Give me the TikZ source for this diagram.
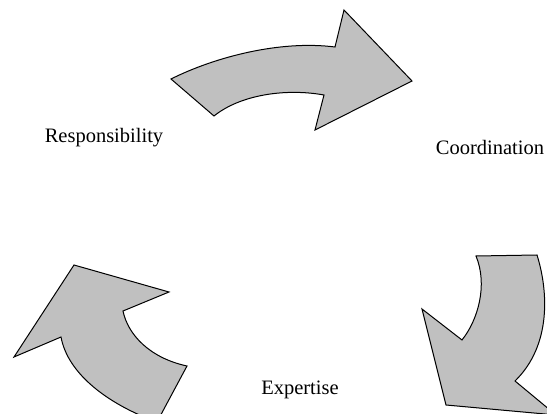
\documentclass[tikz,border=0pt]{standalone}
\usepackage{fontspec}
\setmainfont{Liberation Serif}
\definecolor{arrowgray}{HTML}{C0C0C0}
\tikzset{
  bigarrow/.style={draw=black, fill=arrowgray, line width=1pt, line join=miter},
  label/.style={anchor=base, inner sep=0pt, font=\fontsize{20.5}{24}\selectfont}
}
\begin{document}
\begin{tikzpicture}[x=1pt, y=-1pt]
\useasboundingbox (0,0) rectangle (547,414);
\clip (0,0) rectangle (547,414);
% top arrow
\draw[bigarrow] (171,79) .. controls (215,57) and (280,40) .. (335,47)
  -- (344,10) -- (412,81) -- (315,130) -- (324,95)
  .. controls (285,88) and (240,95) .. (214,116) -- cycle;
% bottom-right arrow
\draw[bigarrow] (476,256) -- (537,255)
  .. controls (548,290) and (552,345) .. (515,381)
  -- (556,415) -- (446,405) -- (422,309) -- (462,340)
  .. controls (478,320) and (488,285) .. (476,256) -- cycle;
% bottom-left arrow
\draw[bigarrow] (74,265) -- (169,292) -- (123,311)
  .. controls (128,335) and (150,358) .. (187,366)
  -- (157,422)
  .. controls (110,405) and (68,375) .. (61,337)
  -- (14,357) -- cycle;
\node[label] (resp) at (104,143) {Responsibility};
\node[label] (coord) at (490,155) {Coordination};
\node[label] (exp) at (300,395) {Expertise};
\end{tikzpicture}
\end{document}
